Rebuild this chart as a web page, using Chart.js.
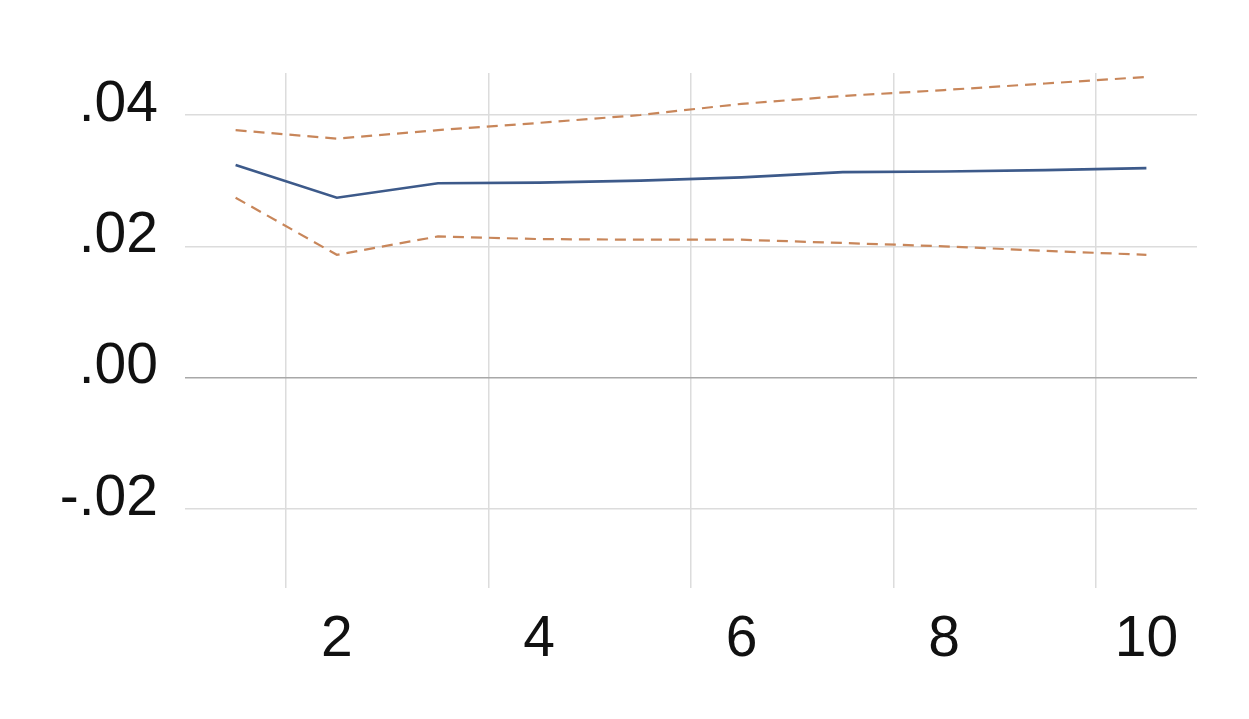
<!DOCTYPE html>
<html>
<head>
<meta charset="utf-8">
<script src="https://cdn.jsdelivr.net/npm/chart.js@4"></script>
<style>
  html, body { margin: 0; padding: 0; background: #fff; }
  #wrap { width: 1249px; height: 719px; }
</style>
</head>
<body>
<div id="wrap"><canvas id="myChart" width="1249" height="719"></canvas></div>
<script>
// periods 1..10
var periods = ['1', '2', '3', '4', '5', '6', '7', '8', '9', '10'];
var response = [0.0324, 0.0274, 0.0296, 0.0297, 0.0300, 0.0305, 0.0313, 0.0314, 0.0316, 0.0319];
var upperBand = [0.0377, 0.0364, 0.0377, 0.0388, 0.0400, 0.0417, 0.0429, 0.0438, 0.0448, 0.0458];
var lowerBand = [0.0274, 0.0187, 0.0215, 0.0211, 0.0210, 0.0210, 0.0205, 0.0200, 0.0193, 0.0187];
var yTicks = [-0.02, 0, 0.02, 0.04];

var tickFont = { family: "'Liberation Sans', Arial, sans-serif", size: 57 };
var bandColor = '#c8865a';

var ctx = document.getElementById('myChart').getContext('2d');
var myChart = new Chart(ctx, {
    type: 'line',
    data: {
      labels: periods,
      datasets: [{
        data: upperBand,
        borderColor: bandColor,
        borderWidth: 2.2,
        borderDash: [11, 7],
        pointRadius: 0,
        fill: false
      }, {
        data: response,
        borderColor: '#3d5a8a',
        borderWidth: 2.6,
        pointRadius: 0,
        fill: false
      }, {
        data: lowerBand,
        borderColor: bandColor,
        borderWidth: 2.2,
        borderDash: [11, 7],
        pointRadius: 0,
        fill: false
      }]
    },
    options: {
      responsive: false,
      animation: false,
      layout: { padding: { top: 73, right: 52, left: 0, bottom: 27 } },
      plugins: { legend: { display: false }, tooltip: { enabled: false } },
      scales: {
        x: {
          type: 'category',
          offset: true,
          border: { display: false },
          grid: {
            offset: true,
            drawTicks: false,
            lineWidth: 1.5,
            color: function (c) { return c.index % 2 === 1 ? '#dcdcdc' : 'rgba(0,0,0,0)'; }
          },
          ticks: {
            autoSkip: false,
            maxRotation: 0,
            padding: 18,
            color: '#111',
            font: tickFont,
            callback: function (v, i) { return (i + 1) % 2 === 0 ? periods[i] : ''; }
          }
        },
        y: {
          min: -0.032,
          max: 0.0464,
          border: { display: false },
          afterFit: function (scale) { scale.width = 185; },
          afterBuildTicks: function (scale) {
            scale.ticks = yTicks.map(function (v) { return { value: v }; });
          },
          grid: {
            drawTicks: false,
            lineWidth: 1.5,
            color: function (c) { return c.tick && c.tick.value === 0 ? '#a8a8a8' : '#dcdcdc'; }
          },
          ticks: {
            padding: 27,
            labelOffset: -10,
            color: '#111',
            font: tickFont,
            callback: function (v) { return v.toFixed(2).replace('0.', '.'); }
          }
        }
      }
    }
  });
</script>
</body>
</html>
